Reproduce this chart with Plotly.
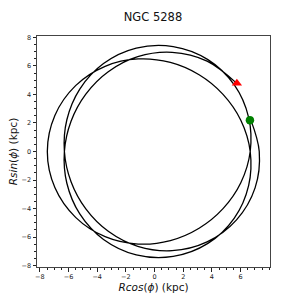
import numpy as np
import plotly.graph_objects as go

# Orbit: unwrapped azimuth (deg) and galactocentric radius (kpc)
phi_deg = [40, 60, 80, 100, 120, 140, 160, 180, 200, 220, 240, 260, 280, 300, 320, 340,
           360, 380, 400, 420, 440, 460, 480, 500, 520, 540, 560, 580, 600, 620, 640, 660,
           680, 700, 720, 740, 760, 780, 800, 820, 840, 860, 880, 900, 920, 940, 960, 980,
           1000, 1020, 1040, 1060, 1080, 1098]
R_kpc = [7.46, 7.32, 7.06, 6.75, 6.46, 6.26, 6.20, 6.29, 6.51, 6.81, 7.12, 7.36, 7.47, 7.44,
         7.26, 6.98, 6.67, 6.40, 6.23, 6.21, 6.34, 6.59, 6.90, 7.19, 7.40, 7.48, 7.40, 7.19,
         6.90, 6.59, 6.34, 6.21, 6.23, 6.40, 6.67, 6.98, 7.26, 7.44, 7.47, 7.36, 7.12, 6.81,
         6.51, 6.29, 6.20, 6.26, 6.46, 6.75, 7.06, 7.32, 7.46, 7.46, 7.30, 7.07]

start_xy = [5.74, 4.78]   # red triangle
end_xy = [6.65, 2.20]     # green circle

title = "NGC 5288"
x_ticks = [-8, -6, -4, -2, 0, 2, 4, 6]
y_ticks = [-8, -6, -4, -2, 0, 2, 4, 6, 8]

ph = np.radians(np.array(phi_deg, dtype=float))
R = np.array(R_kpc)
x = R * np.cos(ph)
y = R * np.sin(ph)

fig = go.Figure()
fig.add_trace(go.Scatter(x=x, y=y, mode="lines",
                         line=dict(color="black", width=1.3, shape="spline", smoothing=1.0),
                         showlegend=False, hoverinfo="skip"))
fig.add_trace(go.Scatter(x=[start_xy[0]], y=[start_xy[1]], mode="markers",
                         marker=dict(symbol="triangle-up", color="red", size=9,
                                     line=dict(width=0)),
                         showlegend=False))
fig.add_trace(go.Scatter(x=[end_xy[0]], y=[end_xy[1]], mode="markers",
                         marker=dict(symbol="circle", color="green", size=8.5,
                                     line=dict(width=0)),
                         showlegend=False))

font = "DejaVu Sans, Arial, sans-serif"
axis_common = dict(
    showgrid=False, zeroline=False, showline=True, linecolor="#444", linewidth=1,
    mirror=True, ticks="outside", ticklen=3.5, tickwidth=0.8, tickcolor="#222",
    tickfont=dict(family=font, size=6.5, color="#222"), automargin=False,
    minor=dict(ticks="outside", ticklen=2, tickwidth=0.6, tickcolor="#222", dtick=0.5),
)

fig.update_layout(
    width=300, height=300,
    margin=dict(l=37, r=30, t=36, b=33, pad=0, autoexpand=False),
    paper_bgcolor="white", plot_bgcolor="white",
    title=dict(text=title, x=0.51, xanchor="center", y=1 - 17 / 300, yanchor="middle",
               yref="container", automargin=False,
               font=dict(family=font, size=11.5, color="#111")),
    xaxis=dict(range=[-8.2, 8.05], tickvals=x_ticks,
               ticktext=[str(v).replace("-", "\u2212") for v in x_ticks],
               title=dict(text="<i>Rcos</i>(<i>ϕ</i>) (kpc)", standoff=3,
                          font=dict(family=font, size=10.5, color="#111")),
               **axis_common),
    yaxis=dict(range=[-8.1, 8.1], tickvals=y_ticks,
               ticktext=[str(v).replace("-", "\u2212") for v in y_ticks],
               title=dict(text="<i>Rsin</i>(<i>ϕ</i>) (kpc)", standoff=1,
                          font=dict(family=font, size=10.5, color="#111")),
               **axis_common),
)

fig.write_html("out.html", config={"displayModeBar": False},
               post_script="document.body.style.margin='0';document.body.style.padding='0';")
